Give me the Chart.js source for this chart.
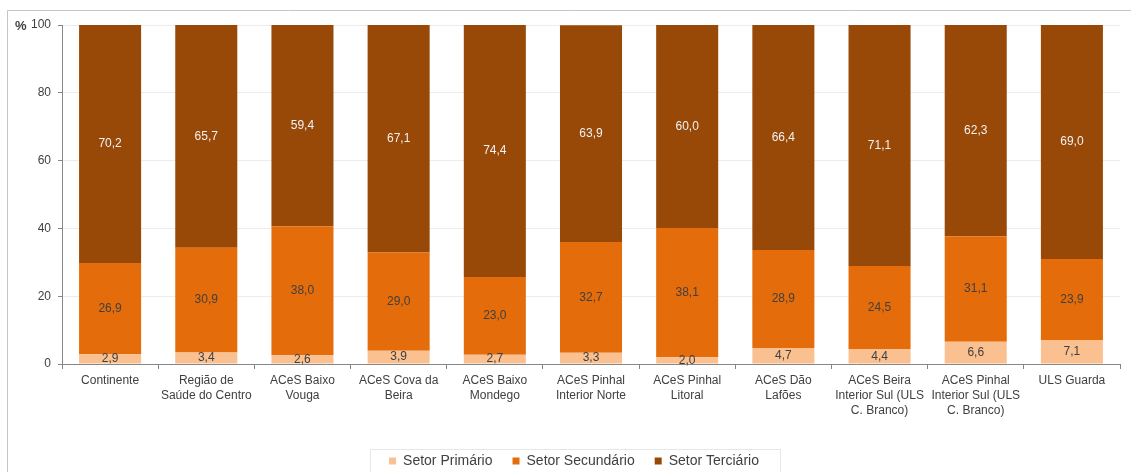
<!DOCTYPE html>
<html>
<head>
<meta charset="utf-8">
<script src="https://cdn.jsdelivr.net/npm/chart.js@4"></script>
<style>
  html, body { margin: 0; padding: 0; background: #fff; }
  #wrap { width: 1131px; height: 472px; position: relative; }
</style>
</head>
<body>
<div id="wrap"><canvas id="sectorChart"></canvas></div>
<script>
// categories (multi-line axis labels)
const categories = [
  'Continente',
  ['Região de', 'Saúde do Centro'],
  ['ACeS Baixo', 'Vouga'],
  ['ACeS Cova da', 'Beira'],
  ['ACeS Baixo', 'Mondego'],
  ['ACeS Pinhal', 'Interior Norte'],
  ['ACeS Pinhal', 'Litoral'],
  ['ACeS Dão', 'Lafões'],
  ['ACeS Beira', 'Interior Sul (ULS', 'C. Branco)'],
  ['ACeS Pinhal', 'Interior Sul (ULS', 'C. Branco)'],
  'ULS Guarda'
];

const primario   = [2.9, 3.4, 2.6, 3.9, 2.7, 3.3, 2.0, 4.7, 4.4, 6.6, 7.1];
const secundario = [26.9, 30.9, 38.0, 29.0, 23.0, 32.7, 38.1, 28.9, 24.5, 31.1, 23.9];
const terciario  = [70.2, 65.7, 59.4, 67.1, 74.4, 63.9, 60.0, 66.4, 71.1, 62.3, 69.0];

const yTicks = [0, 20, 40, 60, 80, 100];

const FONT = "'Liberation Sans', Arial, sans-serif";
const TEXT = '#404040';

// value labels in the middle of each segment (pt decimal comma)
const segmentLabels = {
  id: 'segmentLabels',
  afterDatasetsDraw(chart) {
    const ctx = chart.ctx;
    ctx.save();
    ctx.font = '12px ' + FONT;
    ctx.textAlign = 'center';
    ctx.textBaseline = 'middle';
    chart.data.datasets.forEach((ds, di) => {
      const meta = chart.getDatasetMeta(di);
      ctx.fillStyle = ds.labelColor;
      meta.data.forEach((bar, i) => {
        const y = (bar.y + bar.base) / 2;
        ctx.fillText(ds.data[i].toFixed(1).replace('.', ','), bar.x, y);
      });
    });
    ctx.restore();
  }
};

// outer frame, "%" unit and the box round the legend
const decorations = {
  id: 'decorations',
  afterDraw(chart) {
    const ctx = chart.ctx;
    const y = chart.scales.y;
    ctx.save();
    ctx.strokeStyle = '#c4c4c4';
    ctx.lineWidth = 1;
    ctx.beginPath();
    ctx.moveTo(7.5, chart.height);
    ctx.lineTo(7.5, 10.5);
    ctx.lineTo(chart.width, 10.5);
    ctx.stroke();

    ctx.fillStyle = TEXT;
    ctx.font = 'bold 13px ' + FONT;
    ctx.textAlign = 'left';
    ctx.textBaseline = 'middle';
    ctx.fillText('%', 15, y.getPixelForValue(100) + 1);

    const hb = chart.legend.legendHitBoxes;
    if (hb && hb.length) {
      const last = hb[hb.length - 1];
      const left = hb[0].left - 19;
      const right = last.left + last.width + 21;
      const mid = hb[0].top + hb[0].height / 2;
      ctx.strokeStyle = '#e6e6e6';
      ctx.strokeRect(Math.round(left) + 0.5, Math.round(mid - 12) + 0.5, Math.round(right - left), 23);
    }
    ctx.restore();
  }
};

new Chart(document.getElementById('sectorChart'), {
  type: 'bar',
  data: {
    labels: categories,
    datasets: [
      { label: 'Setor Primário', data: primario, backgroundColor: '#fac090', labelColor: TEXT },
      { label: 'Setor Secundário', data: secundario, backgroundColor: '#e46c0a', labelColor: TEXT },
      { label: 'Setor Terciário', data: terciario, backgroundColor: '#984807', labelColor: '#f2f2f2' }
    ]
  },
  options: {
    responsive: true,
    maintainAspectRatio: false,
    animation: false,
    categoryPercentage: 1,
    barPercentage: 0.645,
    // negative bottom padding pushes the legend down to where the original sits
    layout: { padding: { top: 25, left: 28, right: 11, bottom: -6 } },
    plugins: {
      tooltip: { enabled: false },
      legend: {
        position: 'bottom',
        labels: {
          boxWidth: 7,
          boxHeight: 7,
          padding: 20,
          color: TEXT,
          font: { family: FONT, size: 14 }
        }
      }
    },
    scales: {
      x: {
        stacked: true,
        afterFit: s => { s.height = 70; },
        border: { color: '#868686' },
        grid: { drawOnChartArea: false, offset: true, tickLength: 5, color: '#868686' },
        ticks: {
          color: TEXT,
          padding: 4,
          maxRotation: 0,
          autoSkip: false,
          font: { family: FONT, size: 12, lineHeight: 1.25 }
        }
      },
      y: {
        stacked: true,
        min: 0,
        max: 100,
        afterFit: s => { s.width = 34; },
        afterBuildTicks: s => { s.ticks = yTicks.map(v => ({ value: v })); },
        border: { color: '#868686' },
        grid: { color: '#ececec', tickColor: '#868686', tickLength: 4 },
        ticks: {
          color: TEXT,
          padding: 7,
          font: { family: FONT, size: 12 }
        }
      }
    }
  },
  plugins: [segmentLabels, decorations]
});
</script>
</body>
</html>
